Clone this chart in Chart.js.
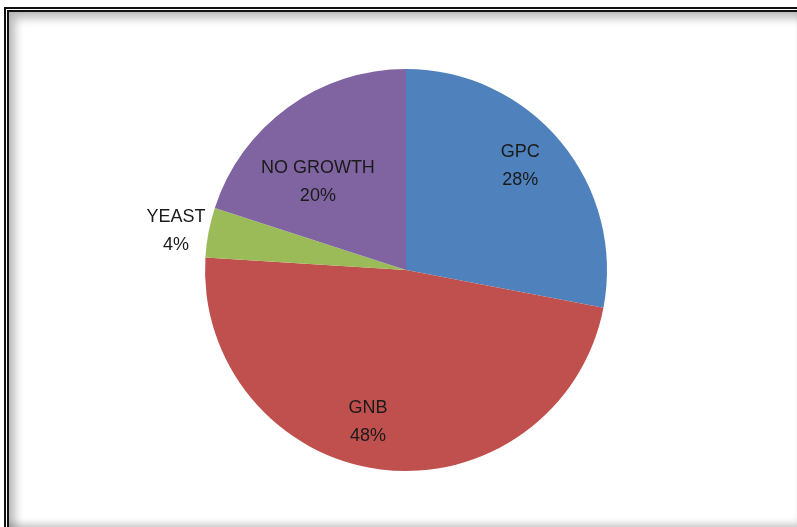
<!DOCTYPE html>
<html>
<head>
<meta charset="utf-8">
<script src="https://cdn.jsdelivr.net/npm/chart.js@4"></script>
<style>
  html, body { margin: 0; padding: 0; background: #fff; }
  body { width: 797px; height: 527px; position: relative; overflow: hidden; }
  .frame {
    position: absolute; left: 4px; top: 7px; width: 800px; height: 520px;
    border: 5px double #111; border-right: none; border-bottom: none;
    box-shadow: inset 6px 6px 10px rgba(0,0,0,0.28), inset -4px -4px 6px rgba(0,0,0,0.18);
    box-sizing: border-box;
  }
  canvas { position: absolute; left: 0; top: 0; }
</style>
</head>
<body>
<div class="frame"></div>
<canvas id="pie" width="797" height="527"></canvas>
<script>
const categories = ['GPC', 'GNB', 'YEAST', 'NO GROWTH'];
const percents = [28, 48, 4, 20];
const colors = ['#4F81BD', '#C0504D', '#9BBB59', '#8064A2'];
// label placement: fraction of radius, and angle nudge in degrees
const labelRadius = [0.77, 0.78, 1.16, 0.62];
const labelNudge = [-2.8, 6.8, -1.2, -9];

const pieLabels = {
  id: 'pieLabels',
  afterDatasetsDraw(chart) {
    const ctx = chart.ctx;
    const meta = chart.getDatasetMeta(0);
    ctx.save();
    ctx.font = '18px "Liberation Sans", Arial, sans-serif';
    ctx.fillStyle = '#1a1a1a';
    ctx.textAlign = 'center';
    ctx.textBaseline = 'middle';
    meta.data.forEach((arc, i) => {
      const p = arc.getProps(['x', 'y', 'startAngle', 'endAngle', 'outerRadius'], true);
      const a = (p.startAngle + p.endAngle) / 2 + labelNudge[i] * Math.PI / 180;
      const r = p.outerRadius * labelRadius[i];
      const x = p.x + Math.cos(a) * r;
      const y = p.y + Math.sin(a) * r;
      ctx.fillText(categories[i], x, y - 14);
      ctx.fillText(percents[i] + '%', x, y + 14);
    });
    ctx.restore();
  }
};

new Chart(document.getElementById('pie'), {
  type: 'pie',
  data: {
    labels: categories,
    datasets: [{
      data: percents,
      backgroundColor: colors,
      borderWidth: 0
    }]
  },
  options: {
    responsive: false,
    animation: false,
    layout: { padding: { left: 15, right: 0, top: 69, bottom: 56 } },
    plugins: {
      legend: { display: false },
      tooltip: { enabled: false }
    }
  },
  plugins: [pieLabels]
});
</script>
</body>
</html>
